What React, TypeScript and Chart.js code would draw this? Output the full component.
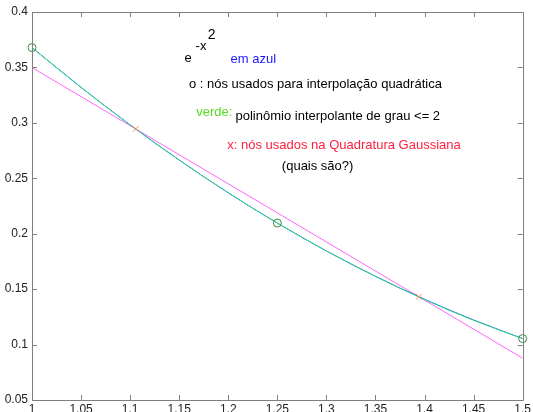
import React, { useEffect, useRef } from "react";
import { Chart, registerables } from "chart.js";

Chart.register(...registerables);

// Curve sample abscissae
const xSamples = [1, 1.05, 1.1, 1.15, 1.2, 1.25, 1.3, 1.35, 1.4, 1.45, 1.5];
// e^{-x^2} (blue)
const expValues = [0.3679, 0.3320, 0.2982, 0.2665, 0.2369, 0.2096, 0.1845, 0.1616, 0.1409, 0.1222, 0.1054];
// quadratic interpolating polynomial (green)
const quadValues = [0.3679, 0.3319, 0.2981, 0.2664, 0.2369, 0.2096, 0.1844, 0.1614, 0.1406, 0.1219, 0.1054];
// line through Gaussian nodes (magenta)
const lineX = [1, 1.5];
const lineY = [0.3499, 0.0877];
// interpolation nodes (circles)
const interpX = [1, 1.25, 1.5];
const interpY = [0.3679, 0.2096, 0.1054];
// Gaussian quadrature nodes (x marks)
const gaussX = [1.1057, 1.3943];
const gaussY = [0.2945, 0.1431];

const xTickValues = [1, 1.05, 1.1, 1.15, 1.2, 1.25, 1.3, 1.35, 1.4, 1.45, 1.5];
const xTickLabels = ["1", "1.05", "1.1", "1.15", "1.2", "1.25", "1.3", "1.35", "1.4", "1.45", "1.5"];
const yTickValues = [0.05, 0.1, 0.15, 0.2, 0.25, 0.3, 0.35, 0.4];
const yTickLabels = ["0.05", "0.1", "0.15", "0.2", "0.25", "0.3", "0.35", "0.4"];

const annotations = [
  { text: "e", x: 1.1555, y: 0.3583, color: "#000000", size: 13 },
  { text: "-x", x: 1.1667, y: 0.3685, color: "#000000", size: 13 },
  { text: "2", x: 1.1792, y: 0.379, color: "#000000", size: 14 },
  { text: "em azul", x: 1.2023, y: 0.3574, color: "#1a1aff", size: 13 },
  { text: "o : nós usados para interpolação quadrática", x: 1.1599, y: 0.3346, color: "#000000", size: 13 },
  { text: "verde:", x: 1.1674, y: 0.3094, color: "#55dd22", size: 13 },
  { text: "polinômio interpolante de grau <= 2", x: 1.2074, y: 0.306, color: "#000000", size: 13 },
  { text: "x: nós usados na Quadratura Gaussiana", x: 1.199, y: 0.2796, color: "#ff2040", size: 13 },
  { text: "(quais são?)", x: 1.2546, y: 0.261, color: "#000000", size: 13 },
];

const pts = (xs: number[], ys: number[]) => xs.map((x, i) => ({ x, y: ys[i] }));

const FONT = "'Liberation Sans', Arial, sans-serif";

const boxPlugin = {
  id: "boxTicks",
  afterDatasetsDraw(chart: any) {
    const { ctx, chartArea: a, scales } = chart;
    ctx.save();
    ctx.strokeStyle = "#7f7f7f";
    ctx.lineWidth = 1;
    ctx.beginPath();
    ctx.rect(Math.round(a.left) + 0.5, Math.round(a.top) + 0.5, Math.round(a.right - a.left), Math.round(a.bottom - a.top));
    ctx.stroke();
    const tl = 5;
    ctx.beginPath();
    xTickValues.forEach((v) => {
      const px = Math.round(scales.x.getPixelForValue(v)) + 0.5;
      ctx.moveTo(px, a.bottom);
      ctx.lineTo(px, a.bottom - tl);
      ctx.moveTo(px, a.top);
      ctx.lineTo(px, a.top + tl);
    });
    yTickValues.forEach((v) => {
      const py = Math.round(scales.y.getPixelForValue(v)) + 0.5;
      ctx.moveTo(a.left, py);
      ctx.lineTo(a.left + tl, py);
      ctx.moveTo(a.right, py);
      ctx.lineTo(a.right - tl, py);
    });
    ctx.stroke();
    ctx.textBaseline = "middle";
    ctx.textAlign = "left";
    annotations.forEach((an) => {
      ctx.font = `${an.size}px ${FONT}`;
      ctx.fillStyle = an.color;
      ctx.fillText(an.text, scales.x.getPixelForValue(an.x), scales.y.getPixelForValue(an.y));
    });
    ctx.restore();
  },
};

export default function App() {
  const ref = useRef<HTMLCanvasElement | null>(null);
  useEffect(() => {
    document.body.style.margin = "0";
    const chart = new Chart(ref.current as HTMLCanvasElement, {
      type: "line",
      data: {
        datasets: [
          {
            data: pts(gaussX, gaussY),
            showLine: false,
            pointStyle: "crossRot",
            pointRadius: 4,
            pointBorderWidth: 1,
            pointBorderColor: "#ff8866",
            clip: false,
          },
          {
            data: pts(interpX, interpY),
            showLine: false,
            pointStyle: "circle",
            pointRadius: 4,
            pointBorderWidth: 1,
            pointBorderColor: "#3a8a3a",
            pointBackgroundColor: "rgba(0,0,0,0)",
            clip: false,
          },
          {
            data: pts(xSamples, quadValues),
            borderColor: "#33dd88",
            borderWidth: 1,
            pointRadius: 0,
            cubicInterpolationMode: "monotone",
            fill: false,
          },
          {
            data: pts(xSamples, expValues),
            borderColor: "#3355ff",
            borderWidth: 1,
            pointRadius: 0,
            cubicInterpolationMode: "monotone",
            fill: false,
          },
          {
            data: pts(lineX, lineY),
            borderColor: "#ff66ff",
            borderWidth: 1,
            pointRadius: 0,
            fill: false,
          },
        ],
      } as any,
      options: {
        animation: false,
        responsive: false,
        devicePixelRatio: 1,
        events: [],
        layout: { padding: { top: 12, right: 9, left: 0, bottom: 0 } },
        plugins: { legend: { display: false }, tooltip: { enabled: false } },
        scales: {
          x: {
            type: "linear",
            min: 1,
            max: 1.5,
            grid: { display: false, drawTicks: false },
            border: { display: false },
            afterFit: (s: any) => {
              s.height = 12;
            },
            afterBuildTicks: (s: any) => {
              s.ticks = xTickValues.map((v) => ({ value: v }));
            },
            ticks: {
              autoSkip: false,
              maxRotation: 0,
              padding: 2,
              color: "#222222",
              font: { family: FONT, size: 12 },
              callback: (_v: any, i: number) => xTickLabels[i],
            },
          },
          y: {
            type: "linear",
            min: 0.05,
            max: 0.4,
            grid: { display: false, drawTicks: false },
            border: { display: false },
            afterFit: (s: any) => {
              s.width = 32;
            },
            afterBuildTicks: (s: any) => {
              s.ticks = yTickValues.map((v) => ({ value: v }));
            },
            ticks: {
              autoSkip: false,
              padding: 4,
              color: "#222222",
              font: { family: FONT, size: 12 },
              callback: (_v: any, i: number) => yTickLabels[i],
            },
          },
        },
      } as any,
      plugins: [boxPlugin],
    });
    return () => chart.destroy();
  }, []);
  return (
    <div style={{ width: 533, height: 412, background: "#fff" }}>
      <canvas ref={ref} width={533} height={412} />
    </div>
  );
}
